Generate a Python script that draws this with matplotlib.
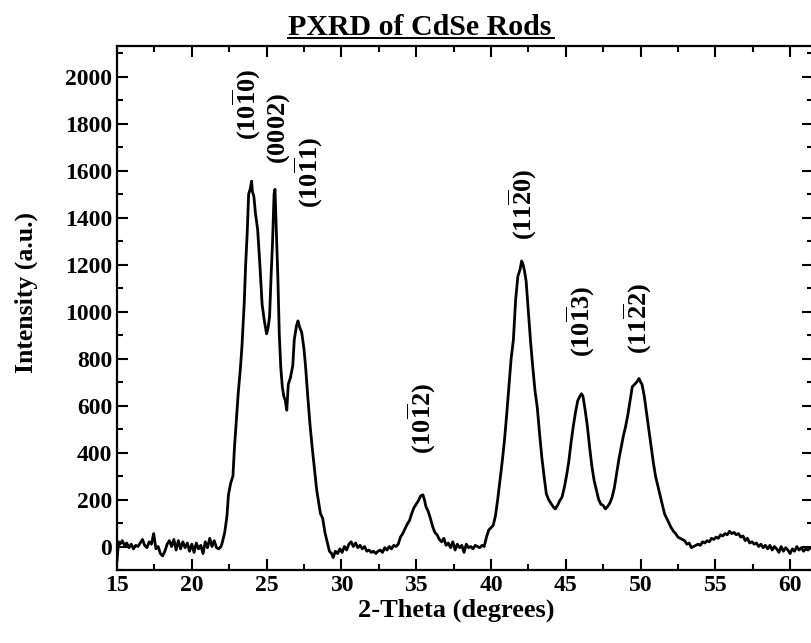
import numpy as np
import matplotlib
matplotlib.use('Agg')
import matplotlib.pyplot as plt
from matplotlib.lines import Line2D
from matplotlib.ticker import MultipleLocator

plt.rcParams['font.family'] = ['Liberation Serif', 'DejaVu Serif']
plt.rcParams['font.weight'] = 'bold'
plt.rcParams['mathtext.fontset'] = 'custom'
plt.rcParams['mathtext.rm'] = 'Liberation Serif:bold'
plt.rcParams['mathtext.it'] = 'Liberation Serif:bold'
plt.rcParams['mathtext.bf'] = 'Liberation Serif:bold'

#%% data (2-theta in degrees, intensity in a.u.)
two_theta = [
    15.0, 15.1, 15.2, 15.35, 15.5, 15.65, 15.8, 15.95, 16.1, 16.25, 16.4, 16.55, 16.7, 16.85,
    17.0, 17.15, 17.3, 17.45, 17.6, 17.75, 17.9, 18.05, 18.2, 18.35, 18.5, 18.65, 18.8, 18.95,
    19.1, 19.25, 19.4, 19.55, 19.7, 19.85, 20.0, 20.15, 20.3, 20.45, 20.6, 20.75, 20.9, 21.05,
    21.2, 21.35, 21.5, 21.65, 21.8, 21.95,
    22.05, 22.2, 22.35, 22.45, 22.6, 22.75, 22.85, 23.0, 23.1, 23.25, 23.35, 23.5, 23.6, 23.7,
    23.8, 23.9, 24.0, 24.05, 24.15, 24.25, 24.4, 24.55, 24.7, 24.85, 25.0, 25.1, 25.2, 25.3,
    25.4, 25.5, 25.56, 25.65, 25.75, 25.85, 25.95, 26.05, 26.15, 26.25, 26.35, 26.45, 26.6,
    26.75, 26.85, 27.0, 27.1, 27.2, 27.35, 27.5, 27.6, 27.75, 27.9, 28.05, 28.2, 28.35, 28.5,
    28.6, 28.75, 28.9, 29.05, 29.2, 29.35, 29.45, 29.6, 29.75, 29.9, 30.05, 30.2, 30.35, 30.5,
    30.65, 30.8, 30.95, 31.1, 31.25, 31.4, 31.55, 31.7, 31.85, 32.0, 32.15, 32.3, 32.45, 32.6,
    32.75, 32.9, 33.05, 33.2, 33.35, 33.5, 33.65, 33.8, 33.95, 34.1, 34.25, 34.4, 34.55, 34.7,
    34.85, 35.0, 35.15, 35.3, 35.45, 35.55, 35.65, 35.8, 35.95, 36.1, 36.25, 36.4, 36.55, 36.7,
    36.85, 37.0, 37.15, 37.3, 37.45, 37.6, 37.75, 37.9, 38.05, 38.2, 38.35, 38.5, 38.65, 38.8,
    38.95, 39.1, 39.25, 39.4, 39.55, 39.7, 39.85, 40.0, 40.15, 40.3, 40.45, 40.6, 40.75, 40.9,
    41.05, 41.2, 41.35, 41.5, 41.65, 41.8, 41.95, 42.05, 42.15, 42.25, 42.35, 42.5, 42.65, 42.8,
    42.95, 43.1, 43.25, 43.4, 43.55, 43.7, 43.85, 44.0, 44.15, 44.3, 44.45, 44.6, 44.75, 44.9,
    45.05, 45.2, 45.35, 45.5, 45.65, 45.8, 45.95, 46.05, 46.15, 46.3, 46.45, 46.6, 46.75, 46.9,
    47.05, 47.2, 47.35, 47.5, 47.65, 47.8, 47.95, 48.1, 48.25, 48.4, 48.55, 48.7, 48.85, 49.0,
    49.15, 49.3, 49.45, 49.6, 49.75, 49.9, 50.0, 50.1, 50.25, 50.4, 50.55, 50.7, 50.85, 51.0,
    51.15, 51.3, 51.45, 51.6, 51.75, 51.9, 52.05, 52.2, 52.35, 52.5, 52.65, 52.8, 52.95, 53.1,
    53.25, 53.4, 53.55, 53.7, 53.85, 54.0, 54.15, 54.3, 54.45, 54.6, 54.75, 54.9, 55.05, 55.2,
    55.35, 55.5, 55.65, 55.8, 55.95, 56.1, 56.25, 56.4, 56.55, 56.7, 56.85, 57.0, 57.15, 57.3,
    57.45, 57.6, 57.75, 57.9, 58.05, 58.2, 58.35, 58.5, 58.65, 58.8, 58.95, 59.1, 59.25, 59.4,
    59.55, 59.7, 59.85, 60.0, 60.15, 60.3, 60.45, 60.6, 60.75, 60.9, 61.05, 61.2, 61.35, 61.5,
]
intensity = [
    -60, 20, 10, 25, 5, 15, -5, 10, -10, 5, 0, 15, 30, 5,
    -5, 20, 10, 55, -10, 0, -30, -40, -20, 10, 25, 0, 30, -15,
    25, -10, 20, -5, 15, -20, 10, -25, 15, -10, 5, -30, 20, -5,
    35, 0, 25, -5, -10, 0,
    20, 60, 130, 220, 270, 300, 420, 560, 650, 760, 850, 1030, 1200, 1330,
    1500, 1520, 1555, 1510, 1490, 1420, 1350, 1200, 1030, 960, 905, 930, 980, 1150,
    1300, 1500, 1520, 1350, 1150, 900, 760, 680, 640, 620, 580, 690, 720,
    770, 880, 940, 960, 935, 910, 840, 770, 640, 520, 420, 330, 240, 180,
    140, 120, 60, 20, -20, -30, -47, -20, -30, -10, -25, 0, -15, 10,
    20, 0, 15, -5, 5, -10, 0, -20, -15, -25, -20, -30, -20, -15,
    -25, -5, -15, 0, -10, 5, 0, 10, 40, 55, 75, 95, 110, 140,
    165, 180, 195, 215, 220, 200, 170, 150, 120, 85, 60, 50, 30, 20,
    35, 5, 15, -5, 20, -15, 10, -5, 5, -25, 10, -5, 0, -10,
    5, 0, -5, 5, 0, 40, 70, 80, 90, 130, 200, 280, 360, 450,
    560, 680, 800, 880, 1050, 1150, 1180, 1215, 1200, 1170, 1130, 1000, 870, 760,
    660, 590, 480, 380, 300, 225, 200, 185, 170, 160, 175, 195, 210, 250,
    300, 360, 440, 510, 570, 620, 640, 650, 640, 580, 510, 420, 340, 280,
    240, 200, 180, 175, 160, 170, 185, 210, 250, 310, 370, 420, 470, 510,
    560, 620, 680, 690, 700, 715, 700, 690, 640, 570, 500, 430, 360, 300,
    260, 220, 180, 140, 120, 100, 80, 65, 55, 40, 35, 30, 25, 10,
    15, -5, 0, 5, 10, 5, 20, 15, 25, 20, 35, 30, 40, 35,
    50, 45, 55, 50, 65, 55, 60, 50, 55, 40, 45, 25, 35, 15,
    20, 10, 15, 0, 10, -5, 5, -10, 5, -15, 0, -10, -25, 0,
    -20, -5, -15, -30, -10, -20, 0, -15, -5, -20, -10, -15, -5, -10,
]

# peak assignments: label, 2-theta and height of the label centre
peak_labels = [r'$(10\overline{1}0)$', r'$(0002)$', r'$(10\overline{1}1)$', r'$(10\overline{1}2)$',
               r'$(11\overline{2}0)$', r'$(10\overline{1}3)$', r'$(11\overline{2}2)$']
peak_x = [23.7, 25.8, 27.8, 35.4, 42.1, 46.0, 49.8]
peak_y = [1880, 1780, 1590, 545, 1455, 957, 970]

#%% plot
fig = plt.figure(figsize=(8.11, 6.43), dpi=100)
ax = fig.add_axes([0.1443, 0.1135, 0.8587, 0.815])

ax.plot(two_theta, intensity, color='black', lw=2.0)

for lab, px, py in zip(peak_labels, peak_x, peak_y):
    ax.text(px, py, lab, rotation=90, ha='center', va='center', fontsize=19)

ax.set_xlim(15, 61.56)
ax.set_ylim(-100, 2130)
ax.xaxis.set_major_locator(MultipleLocator(5))
ax.xaxis.set_minor_locator(MultipleLocator(2.5))
ax.yaxis.set_major_locator(MultipleLocator(200))
ax.yaxis.set_minor_locator(MultipleLocator(100))
ax.tick_params(which='both', direction='in', top=True, right=True, width=1.5, labelsize=17)
ax.tick_params(which='major', length=8)
ax.tick_params(which='minor', length=4)
for sp in ax.spines.values():
    sp.set_linewidth(1.6)

ax.set_xlabel('2-Theta (degrees)', fontsize=19, fontweight='bold', va='center')
ax.xaxis.set_label_coords(0.487, -0.0765)
ax.set_ylabel('Intensity (a.u.)', fontsize=18.5, fontweight='bold', va='center')
ax.yaxis.set_label_coords(-0.13, 0.53)

# underlined title
title = fig.text(0.517, 0.958, 'PXRD of CdSe Rods', ha='center', va='center',
                 fontsize=21.5, fontweight='bold')
fig.canvas.draw()
bb = title.get_window_extent().transformed(fig.transFigure.inverted())
fig.add_artist(Line2D([bb.x0, bb.x1 + 0.004], [bb.y0 + 0.004, bb.y0 + 0.004], color='black',
                      lw=1.4, transform=fig.transFigure))

fig.savefig('out.png', dpi=100)
